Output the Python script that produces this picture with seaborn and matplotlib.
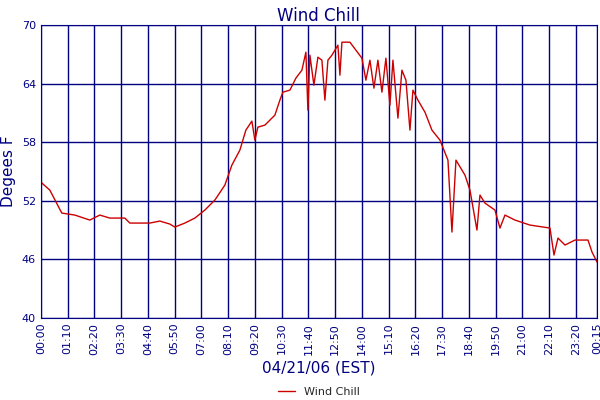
import numpy as np
import pandas as pd
import matplotlib
matplotlib.use("Agg")
import matplotlib.pyplot as plt
import seaborn as sns

# pixel readings converted to (minutes since 00:00, deg F)
px_x = [41, 50, 62, 75, 90, 100, 110, 125, 130, 150, 160, 170, 175, 185, 195, 205, 215, 225, 232, 240,
        246, 252, 255, 258, 265, 275, 280, 283, 290, 296, 302, 306, 308, 310, 314, 318, 322, 325, 328, 332,
        335, 338, 340, 342, 350, 356, 362, 366, 370, 374, 378, 382, 386, 390, 393, 398, 402, 406, 410, 413,
        418, 425, 432, 440, 448, 452, 456, 465, 470, 477, 480, 485, 495, 500, 505, 515, 530, 550, 554, 558,
        565, 575, 588, 592, 597]
px_y = [182, 190, 213, 215, 220, 215, 218, 218, 223, 223, 221, 224, 227, 223, 218, 210, 200, 185, 165, 150,
        130, 121, 140, 127, 125, 115, 100, 92, 90, 78, 70, 52, 110, 55, 85, 57, 60, 100, 60, 55,
        50, 45, 75, 42, 42, 50, 58, 80, 60, 88, 60, 92, 58, 105, 60, 118, 70, 80, 130, 90,
        100, 112, 130, 140, 160, 232, 160, 175, 190, 230, 195, 203, 210, 228, 215, 220, 225, 228, 255, 238,
        245, 240, 240, 252, 262]

minutes = [(x - 41) / 556 * 1455 for x in px_x]
chill = [70 - (y - 25) / 293 * 30 for y in px_y]
df = pd.DataFrame({"minute": minutes, "Wind Chill": chill})

tick_pos = list(range(0, 1401, 70)) + [1455]
tick_lab = ["%02d:%02d" % ((m // 60) % 24, m % 60) for m in tick_pos]

navy = "#000080"
sns.set_style("white")
plt.rcParams["font.family"] = ["Verdana", "DejaVu Sans"]
fig, ax = plt.subplots(figsize=(6, 4), dpi=100)
fig.subplots_adjust(left=0.068, right=0.995, top=0.937, bottom=0.205)
sns.lineplot(data=df, x="minute", y="Wind Chill", color="#cc0000", lw=1, ax=ax, label="Wind Chill")
ax.set_xlim(0, 1455)
ax.set_ylim(40, 70)
ax.set_yticks(range(40, 71, 6))
ax.set_xticks(tick_pos)
ax.set_xticklabels(tick_lab, rotation=90, fontsize=8, color=navy)
ax.tick_params(axis="y", labelsize=8, labelcolor=navy, length=0)
ax.tick_params(axis="x", length=0)
ax.grid(True, color=navy, lw=1)
for s in ax.spines.values():
    s.set_color(navy)
ax.set_title("Wind Chill", color=navy, fontsize=12, pad=3)
ax.set_xlabel("04/21/06 (EST)", color=navy, fontsize=11)
ax.set_ylabel("Degees F", color=navy, fontsize=11)
ax.legend(loc="upper center", bbox_to_anchor=(0.5, -0.2), frameon=False, fontsize=8, handlelength=1.5)
fig.savefig("out.png")
